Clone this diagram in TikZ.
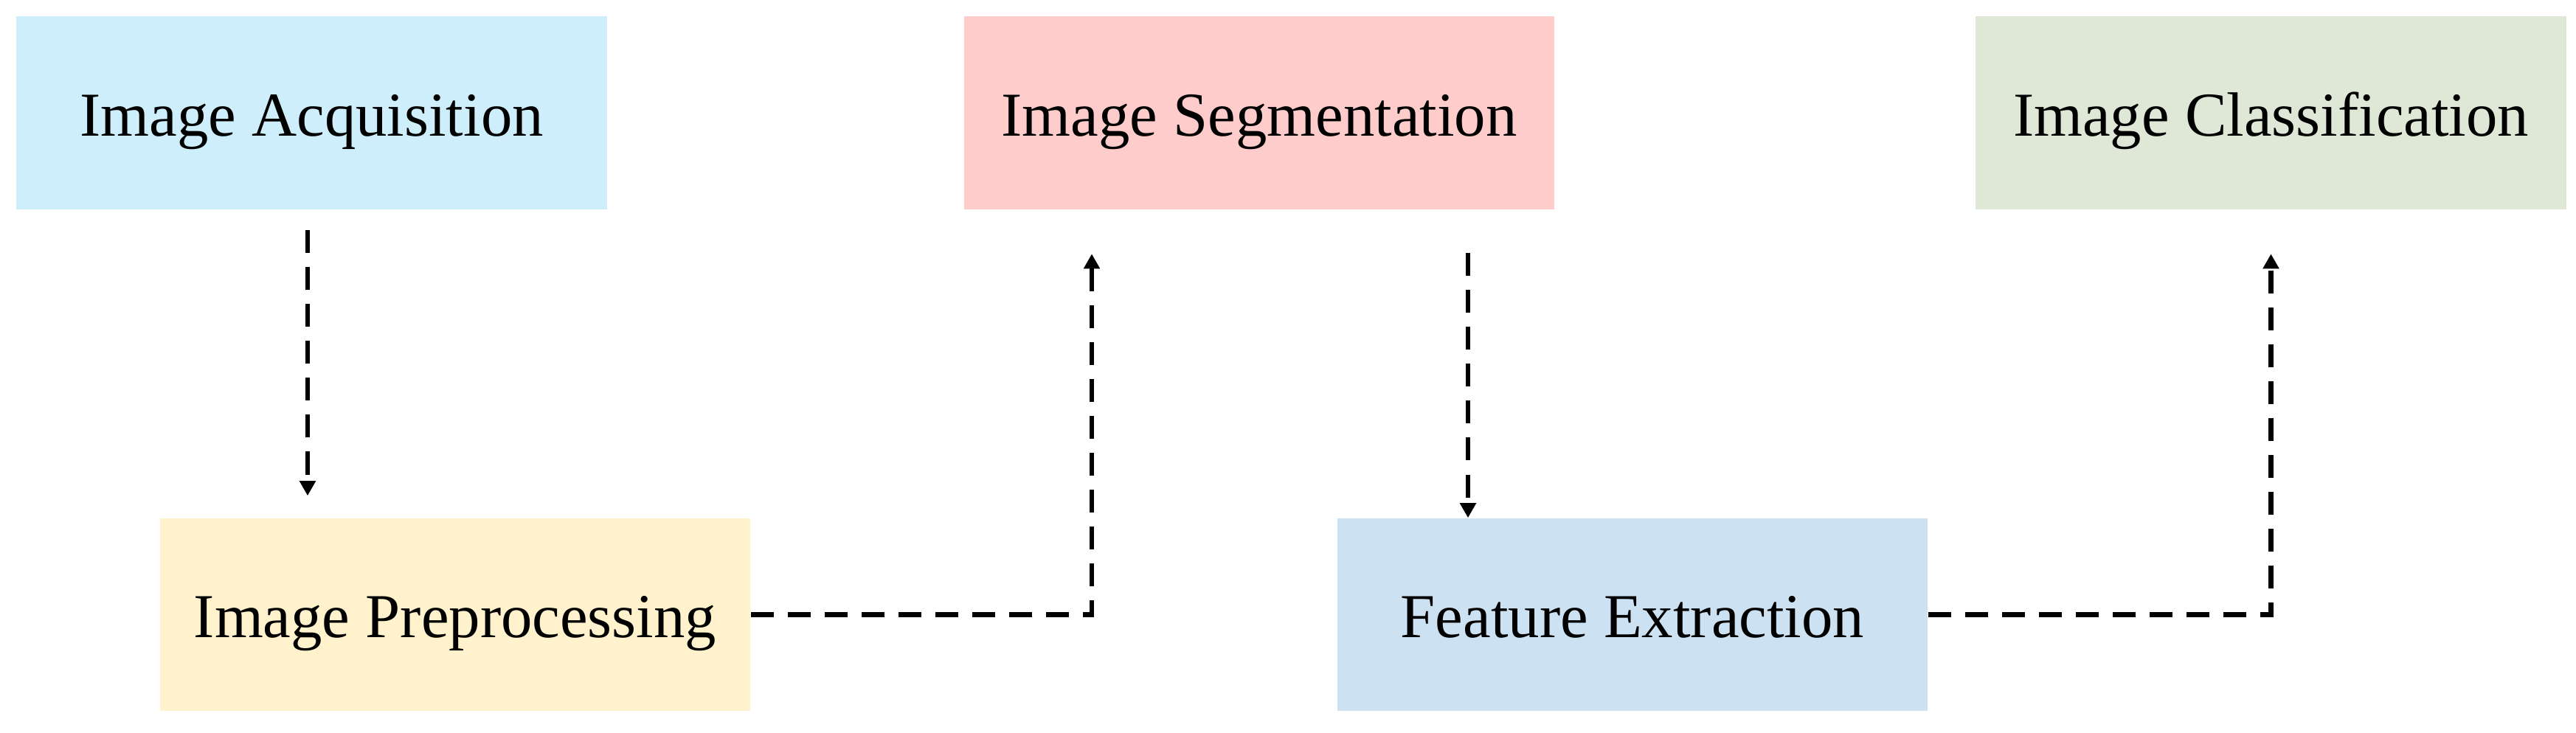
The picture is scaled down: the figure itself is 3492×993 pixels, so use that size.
\documentclass[tikz,border=0pt]{standalone}
\usepackage{fontspec}
\setmainfont{Liberation Serif}
\usetikzlibrary{arrows.meta}
\definecolor{cacq}{HTML}{CDEEFA}
\definecolor{cpre}{HTML}{FFF2CC}
\definecolor{cseg}{HTML}{FFCCCC}
\definecolor{cfea}{HTML}{CCE1F2}
\definecolor{ccls}{HTML}{DFE7D7}
\begin{document}
\begin{tikzpicture}[x=0.01cm,y=-0.01cm,
  stagebox/.style={rectangle, draw=none, minimum width=8cm, minimum height=2.61cm,
    inner sep=0pt, text height=0.62cm, text depth=0cm,
    font=\fontsize{24.1pt}{29pt}\selectfont},
  conn/.style={line width=1.8pt, dash pattern=on 0.31cm off 0.19cm,
    -{Triangle[length=0.2cm,width=0.21cm]}}]
\useasboundingbox (0,0) rectangle (3492,993);
\node[stagebox, fill=cacq] (acq) at (422.5,153) {Image Acquisition};
\node[stagebox, fill=cpre] (pre) at (617,833.5) {Image Preprocessing};
\node[stagebox, fill=cseg] (seg) at (1707,153) {Image Segmentation};
\node[stagebox, fill=cfea] (fea) at (2213,833.5) {Feature Extraction};
\node[stagebox, fill=ccls] (cls) at (3078.5,153) {Image Classification};
\coordinate (c1) at (417,0);
\coordinate (c2) at (1480,0);
\coordinate (c3) at (1990,0);
\draw[conn, shorten <=0.28cm, shorten >=0.30cm] (acq.south -| c1) -- (pre.north -| c1);
\draw[conn, shorten >=0.60cm] (pre.east) -| (seg.south -| c2);
\draw[conn, shorten <=0.59cm] (seg.south -| c3) -- (fea.north -| c3);
\draw[conn, shorten >=0.60cm] (fea.east) -| (cls.south);
\end{tikzpicture}
\end{document}
